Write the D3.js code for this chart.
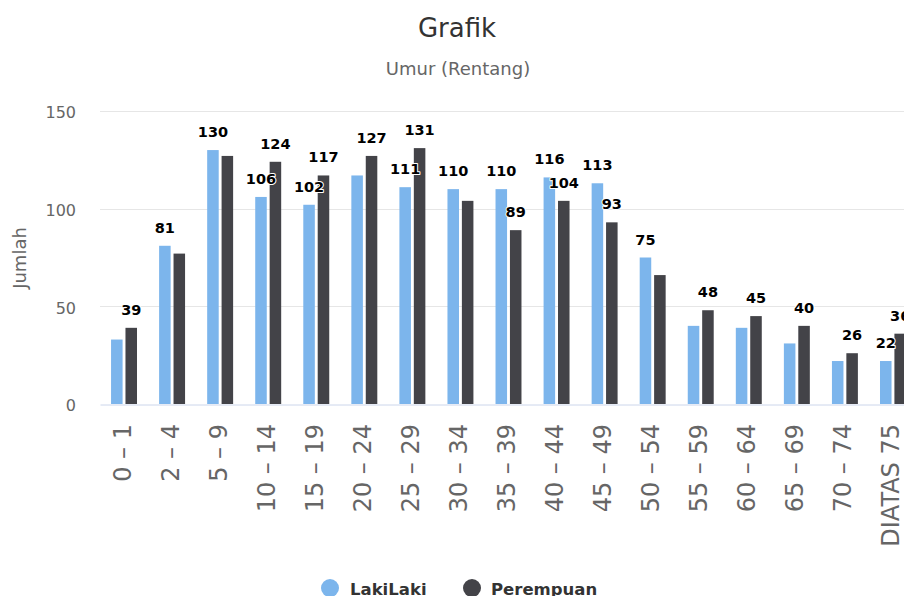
<!DOCTYPE html>
<html>
<head>
<meta charset="utf-8">
<script src="https://cdn.jsdelivr.net/npm/d3@7"></script>
<style>
  html, body { margin: 0; padding: 0; background: #fff; overflow: hidden; }
  svg { display: block; font-family: "DejaVu Sans", Verdana, sans-serif; }
</style>
</head>
<body>
<div id="chart"></div>
<script>
// Chart data
const categories = ["0 – 1", "2 – 4", "5 – 9", "10 – 14", "15 – 19", "20 – 24", "25 – 29", "30 – 34",
    "35 – 39", "40 – 44", "45 – 49", "50 – 54", "55 – 59", "60 – 64", "65 – 69", "70 – 74", "DIATAS 75"];
const seriesNames = ["LakiLaki", "Perempuan"];
const lakiLaki = [33, 81, 130, 106, 102, 117, 111, 110, 110, 116, 113, 75, 40, 39, 31, 22, 22];
const perempuan = [39, 77, 127, 124, 117, 127, 131, 104, 89, 104, 93, 66, 48, 45, 40, 26, 36];
const yTicks = [0, 50, 100, 150];
const colors = ["#7cb5ec", "#434348"];

const W = 904, H = 596;
const plot = { left: 100, right: 917, top: 111, bottom: 404 };

const svg = d3.select("#chart").append("svg")
    .attr("width", W)
    .attr("height", H);

// Scales
const x0 = d3.scaleBand()
    .domain(categories)
    .range([plot.left, plot.right]);

const bw = x0.bandwidth();
const x1 = d3.scaleBand()
    .domain(seriesNames)
    .range([bw * 0.2, bw * 0.8])
    .paddingInner(0.2)
    .paddingOuter(0.1);

const y = d3.scaleLinear()
    .domain([0, 150])
    .range([plot.bottom, plot.top]);

// Title and subtitle
svg.append("text")
    .attr("x", 457)
    .attr("y", 37)
    .attr("text-anchor", "middle")
    .attr("font-size", "26px")
    .attr("fill", "#333")
    .text("Grafik");

svg.append("text")
    .attr("x", 458)
    .attr("y", 75)
    .attr("text-anchor", "middle")
    .attr("font-size", "18px")
    .attr("fill", "#666")
    .text("Umur (Rentang)");

// Grid lines
svg.selectAll(".y-grid-line")
    .data(yTicks.filter(d => d > 0))
    .enter()
    .append("line")
    .attr("class", "y-grid-line")
    .attr("x1", plot.left)
    .attr("x2", plot.right)
    .attr("y1", d => Math.round(y(d)) + 0.5)
    .attr("y2", d => Math.round(y(d)) + 0.5)
    .attr("stroke", "#e6e6e6")
    .attr("stroke-width", 1);

// Y axis labels
const yAxis = svg.append("g")
    .attr("transform", `translate(${plot.left},0)`)
    .call(d3.axisLeft(y).tickValues(yTicks).tickSize(0).tickPadding(24));
yAxis.select(".domain").remove();
yAxis.selectAll("text")
    .attr("font-family", "DejaVu Sans, sans-serif")
    .attr("font-size", "16px")
    .attr("fill", "#666")
    .attr("dy", "0.42em");

// Y axis title
svg.append("text")
    .attr("transform", "translate(26,258) rotate(-90)")
    .attr("text-anchor", "middle")
    .attr("font-size", "18px")
    .attr("fill", "#666")
    .text("Jumlah");

// Bars
const seriesData = [lakiLaki, perempuan];
const groups = svg.selectAll(".series")
    .data(seriesNames)
    .enter()
    .append("g")
    .attr("class", "series")
    .attr("fill", (d, i) => colors[i]);

groups.selectAll("rect")
    .data((s, si) => categories.map((c, i) => ({ cat: c, series: s, value: seriesData[si][i] })))
    .enter()
    .append("rect")
    .attr("x", d => x0(d.cat) + x1(d.series))
    .attr("y", d => y(d.value))
    .attr("width", x1.bandwidth())
    .attr("height", d => y(0) - y(d.value));

// X axis
const xAxis = svg.append("g")
    .attr("transform", `translate(0,${plot.bottom})`)
    .call(d3.axisBottom(x0).tickSize(0).tickSizeOuter(0));
xAxis.select(".domain")
    .attr("stroke", "#ccd6eb")
    .attr("transform", "translate(0,0.5)");
xAxis.selectAll("text")
    .attr("font-family", "DejaVu Sans, sans-serif")
    .attr("font-size", "24px")
    .attr("fill", "#666")
    .attr("transform", "rotate(-90)")
    .attr("x", -20)
    .attr("y", 0)
    .attr("dy", "0.27em")
    .attr("text-anchor", "end");

// Data labels (hide overlapping ones, taller bars win)
const labelLayer = svg.append("g");
const labelData = [];
seriesNames.forEach((s, si) => {
    categories.forEach((c, i) => {
        labelData.push({ cat: c, series: s, value: seriesData[si][i] });
    });
});

const labels = labelLayer.selectAll(".data-label")
    .data(labelData)
    .enter()
    .append("text")
    .attr("class", "data-label")
    .attr("x", d => x0(d.cat) + x1(d.series) + x1.bandwidth() / 2)
    .attr("y", d => y(d.value) - 13)
    .attr("text-anchor", "middle")
    .attr("font-size", "14.5px")
    .attr("font-weight", "bold")
    .attr("fill", "#000")
    .attr("stroke", "#fff")
    .attr("stroke-width", 2)
    .attr("stroke-linejoin", "round")
    .attr("paint-order", "stroke")
    .text(d => d.value);

labels.each(function(d) {
    const w = this.getComputedTextLength();
    const cx = x0(d.cat) + x1(d.series) + x1.bandwidth() / 2;
    const by = y(d.value) - 13;
    d.box = { x1: cx - w / 2, x2: cx + w / 2, y1: by - 15, y2: by + 6 };
});

const order = labelData.slice().sort((a, b) => b.value - a.value);
const kept = [];
order.forEach(d => {
    const hit = kept.some(k => !(d.box.x2 <= k.box.x1 || d.box.x1 >= k.box.x2 ||
        d.box.y2 <= k.box.y1 || d.box.y1 >= k.box.y2));
    d.visible = !hit;
    if (!hit) kept.push(d);
});
labels.filter(d => !d.visible).remove();

// Legend
const legendItems = [
    { name: seriesNames[0], color: colors[0], cx: 330, tx: 350 },
    { name: seriesNames[1], color: colors[1], cx: 472, tx: 491 }
];
const legend = svg.append("g");
legend.selectAll("circle")
    .data(legendItems)
    .enter()
    .append("circle")
    .attr("cx", d => d.cx)
    .attr("cy", 588)
    .attr("r", 9)
    .attr("fill", d => d.color);
legend.selectAll("text")
    .data(legendItems)
    .enter()
    .append("text")
    .attr("x", d => d.tx)
    .attr("y", 594.5)
    .attr("font-size", "16.5px")
    .attr("font-weight", "bold")
    .attr("fill", "#333")
    .text(d => d.name);
</script>
</body>
</html>
